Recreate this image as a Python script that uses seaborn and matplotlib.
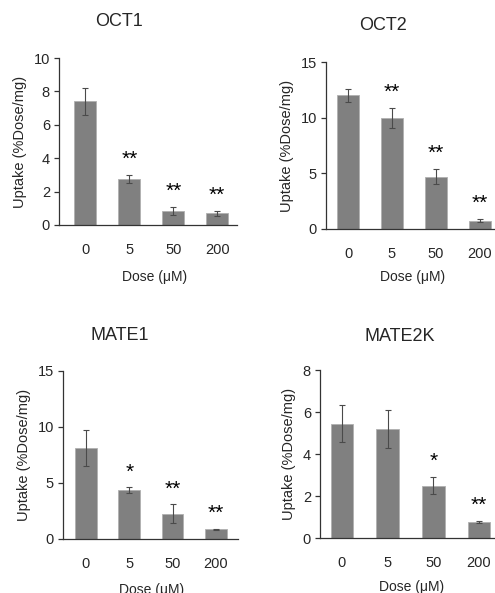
import numpy as np
import pandas as pd
import seaborn as sns
import matplotlib.pyplot as plt

# data
doses = ['0', '5', '50', '200']

oct1_mean = [7.4, 2.75, 0.84, 0.7]
oct1_err = [0.8, 0.25, 0.24, 0.15]
oct1_sig = ['', '**', '**', '**']

oct2_mean = [12.0, 10.0, 4.7, 0.75]
oct2_err = [0.6, 0.9, 0.7, 0.15]
oct2_sig = ['', '**', '**', '**']

mate1_mean = [8.1, 4.35, 2.25, 0.85]
mate1_err = [1.6, 0.25, 0.85, 0.05]
mate1_sig = ['', '*', '**', '**']

mate2k_mean = [5.45, 5.2, 2.5, 0.75]
mate2k_err = [0.9, 0.9, 0.4, 0.05]
mate2k_sig = ['', '', '*', '**']

sns.set_style('white')
plt.rcParams['font.family'] = ['Liberation Sans', 'DejaVu Sans']

W, H = 495, 593
fig = plt.figure(figsize=(W / 100, H / 100), dpi=100)


def px_axes(left, right, top, bottom):
    return fig.add_axes([left / W, 1 - bottom / H, (right - left) / W, (bottom - top) / H])


panels = [
    # name, mean, err, sig, ymax, step, box(l, r, t, b), xlim, title xy, xlabel xy (pixels)
    ('OCT1', oct1_mean, oct1_err, oct1_sig, 10, 2, (59, 237, 58, 225), (-0.6, 3.45), (119, 22), (155, 270)),
    ('OCT2', oct2_mean, oct2_err, oct2_sig, 15, 5, (326, 495, 62, 229), (-0.5, 3.34), (383, 25), (413, 270)),
    ('MATE1', mate1_mean, mate1_err, mate1_sig, 15, 5, (63, 238, 371, 539), (-0.53, 3.51), (120, 335), (152, 583)),
    ('MATE2K', mate2k_mean, mate2k_err, mate2k_sig, 8, 2, (320, 495, 370, 538), (-0.48, 3.35), (400, 336), (412, 580)),
]

for name, mean, err, sig, ymax, step, box, xl, txy, lxy in panels:
    ax = px_axes(*box)
    df = pd.DataFrame({'dose': doses, 'uptake': mean})
    sns.barplot(data=df, x='dose', y='uptake', color='#808080', saturation=1,
                width=0.5, errorbar=None, edgecolor='#b0b0b0', linewidth=0.6, ax=ax)
    ax.errorbar(range(len(doses)), mean, yerr=err, fmt='none', ecolor='#4a4a4a',
                elinewidth=0.8, capsize=2.5, capthick=0.8)
    for i, s in enumerate(sig):
        if s:
            ax.text(i, mean[i] + err[i] + ymax * 0.035, s, ha='center', va='bottom',
                    fontsize=15, color='black')
    ax.set_ylim(0, ymax)
    ax.set_yticks(np.arange(0, ymax + 0.1, step))
    ax.set_xlim(*xl)
    sns.despine(ax=ax)
    for sp in ['left', 'bottom']:
        ax.spines[sp].set_color('#333333')
        ax.spines[sp].set_linewidth(0.9)
    ax.tick_params(axis='x', length=0, pad=13, labelsize=10.5)
    ax.tick_params(axis='y', length=3.5, width=0.9, color='#333333', pad=3, labelsize=10.5, left=True)
    ax.set_ylabel('Uptake (%Dose/mg)', fontsize=10.5, labelpad=5)
    ax.set_xlabel('Dose (\u03bcM)', fontsize=10)
    ax.xaxis.set_label_coords((lxy[0] - box[0]) / (box[1] - box[0]),
                              -(lxy[1] - box[3]) / (box[3] - box[2]))
    fig.text(txy[0] / W, 1 - txy[1] / H, name, ha='center', va='center', fontsize=13)

fig.savefig('out.png', dpi=100)
